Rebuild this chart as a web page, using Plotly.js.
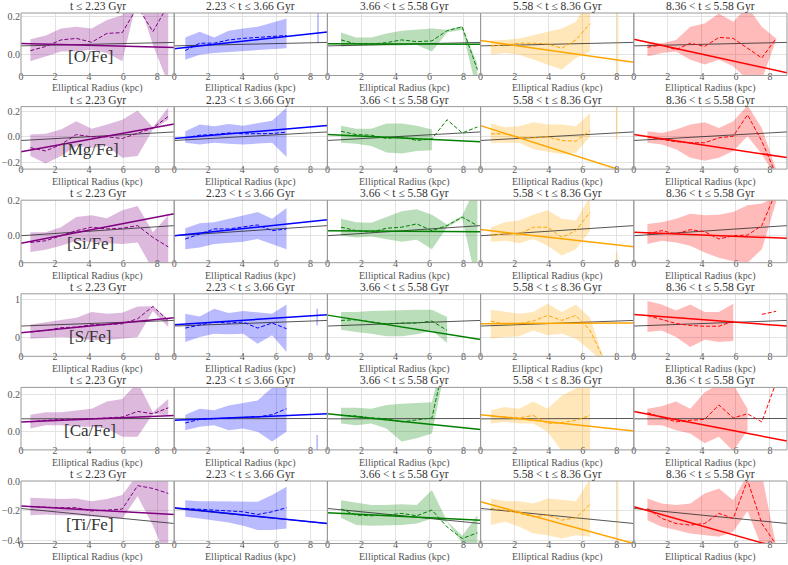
<!DOCTYPE html>
<html>
<head>
<meta charset="utf-8">
<script src="https://cdn.plot.ly/plotly-3.0.1.min.js"></script>
<style>
  body { margin: 0; background: #fff; }
  #graph { width: 788px; height: 565px; }
</style>
</head>
<body>
<div id="graph"></div>
<script>
// Abundance gradients vs elliptical radius, split by stellar age bin

const ageBins = ['t ≤ 2.23 Gyr', '2.23 < t ≤ 3.66 Gyr', '3.66 < t ≤ 5.58 Gyr', '5.58 < t ≤ 8.36 Gyr', '8.36 < t ≤ 5.58 Gyr'];
const elements = ['[O/Fe]', '[Mg/Fe]', '[Si/Fe]', '[S/Fe]', '[Ca/Fe]', '[Ti/Fe]'];
const binColors = ['purple', 'blue', 'green', 'orange', 'red'];
const fillColors = ['rgba(128,0,128,0.27)', 'rgba(0,0,255,0.27)', 'rgba(0,128,0,0.27)', 'rgba(255,165,0,0.27)', 'rgba(255,0,0,0.27)'];

// radial bin centres (kpc) for each age bin
const radiusBins = [
    [0.55, 1.45, 2.35, 3.25, 4.15, 5.05, 5.95, 6.85, 7.75, 8.65],
    [0.65, 1.5, 2.35, 3.2, 4.05, 4.9, 5.75, 6.6],
    [0.8, 1.69, 2.58, 3.47, 4.36, 5.25, 6.14, 7.03, 7.92, 8.81],
    [0.6, 1.43, 2.27, 3.1, 3.93, 4.77, 5.6, 6.43, 7.27],
    [0.8, 1.64, 2.48, 3.32, 4.16, 5.0, 5.84, 6.68, 7.52, 8.36]
];
// linear fits are drawn between these radii
const fitRadii = [0, 9];

// [O/Fe]
const O_med = [
    [0.021, 0.043, 0.077, 0.085, 0.065, 0.111, 0.115, 0.25, 0.12, 0.26],
    [0.022, 0.06, 0.06, 0.077, 0.085, 0.09, 0.097, 0.10],
    [0.077, 0.056, 0.055, 0.063, 0.077, 0.068, 0.072, 0.125, 0.145, -0.077],
    [0.046, 0.051, 0.06, 0.06, 0.056, 0.034, 0.077, 0.162, null],
    [0.039, 0.051, 0.026, 0.06, 0.043, 0.09, 0.085, 0.034, -0.017, 0.085]
];
const O_hi = [
    [0.08, 0.10, 0.137, 0.145, 0.137, 0.18, 0.205, 0.5, 0.4, 0.5],
    [0.09, 0.12, 0.09, 0.125, 0.137, 0.145, 0.166, 0.188],
    [0.115, 0.09, 0.09, 0.111, 0.125, 0.132, 0.137, 0.13, 0.15, -0.05],
    [0.074, 0.077, 0.085, 0.103, 0.12, 0.137, 0.171, 0.3, null],
    [0.068, 0.06, 0.077, 0.145, 0.162, 0.214, 0.171, 0.25, 0.145, 0.085]
];
const O_lo = [
    [-0.034, -0.009, 0.017, 0.017, 0.026, 0.009, -0.034, 0.3, 0.05, -0.15],
    [-0.026, 0.0, 0.009, 0.017, 0.022, 0.026, 0.029, 0.034],
    [0.043, 0.046, 0.046, 0.048, 0.048, 0.051, 0.017, 0.115, 0.13, -0.2],
    [0.0, 0.009, 0.0, -0.026, -0.051, -0.077, -0.017, 0.017, null],
    [-0.009, 0.009, 0.017, -0.026, -0.051, -0.026, -0.06, -0.13, -0.13, 0.077]
];
const O_fit = [[0.058, 0.038], [0.031, 0.118], [0.057, 0.055], [0.074, -0.039], [0.080, -0.094]];
const O_all = [0.046, 0.064];

// [Mg/Fe]
const Mg_med = [
    [-0.086, -0.112, -0.06, 0.018, 0.0, 0.0, -0.013, 0.031, 0.07, 0.162],
    [-0.008, 0.013, 0.018, 0.031, 0.024, 0.024, 0.026, 0.037],
    [0.044, 0.018, 0.013, -0.013, 0.0, -0.029, -0.016, 0.136, 0.031, 0.078],
    [0.024, 0.024, -0.003, -0.008, 0.0, -0.029, -0.034, 0.05, null],
    [0.0, -0.021, -0.039, -0.047, -0.047, -0.008, 0.005, 0.175, -0.034, -0.3]
];
const Mg_hi = [
    [0.018, 0.024, 0.058, 0.123, 0.065, 0.097, 0.136, 0.209, 0.076, 0.233],
    [0.044, 0.097, 0.084, 0.102, 0.089, 0.11, 0.128, 0.233],
    [0.089, 0.065, 0.065, 0.105, 0.105, 0.089, 0.058, null, null, null],
    [0.105, 0.076, 0.084, 0.115, 0.097, 0.097, 0.084, 0.188, null],
    [0.044, 0.031, 0.058, 0.097, 0.115, 0.07, 0.123, 0.25, 0.07, -0.26]
];
const Mg_lo = [
    [-0.152, -0.212, -0.152, -0.073, -0.086, -0.073, -0.165, -0.152, 0.058, 0.136],
    [-0.047, -0.06, -0.047, -0.055, -0.06, -0.055, -0.047, -0.159],
    [-0.047, -0.055, -0.073, -0.125, -0.133, -0.112, -0.107, null, null, null],
    [-0.047, -0.047, -0.047, -0.099, -0.12, -0.139, -0.125, 0.0, null],
    [-0.047, -0.06, -0.099, -0.165, -0.19, -0.165, -0.112, 0.005, -0.139, -0.32]
];
const Mg_fit = [[-0.118, 0.102], [-0.013, 0.09], [0.018, -0.039], [0.089, -0.297], [0.018, -0.165]];
const Mg_all = [-0.029, 0.039];

// [Si/Fe]
const Si_med = [
    [-0.043, -0.033, -0.004, 0.025, 0.045, 0.035, 0.039, 0.054, -0.014, -0.068],
    [-0.023, 0.006, 0.035, 0.035, 0.045, 0.058, 0.025, 0.035],
    [0.045, 0.025, 0.016, 0.039, 0.045, 0.064, 0.025, 0.054, 0.103, 0.054],
    [0.0, 0.006, 0.006, 0.045, 0.045, -0.014, 0.025, 0.132, null],
    [0.006, 0.025, 0.006, 0.031, 0.019, -0.023, -0.004, 0.0, 0.054, 0.25]
];
const Si_hi = [
    [0.016, 0.016, 0.045, 0.103, 0.113, 0.097, 0.142, 0.167, 0.016, 0.113],
    [0.039, 0.068, 0.074, 0.093, 0.113, 0.132, 0.093, 0.155],
    [0.093, 0.074, 0.07, 0.103, 0.136, 0.148, 0.117, 0.06, 0.11, 0.3],
    [0.045, 0.074, 0.084, 0.117, 0.142, 0.093, 0.084, 0.22, null],
    [0.064, 0.074, 0.093, 0.122, 0.113, 0.117, 0.132, 0.171, 0.181, 0.22]
];
const Si_lo = [
    [-0.097, -0.085, -0.062, -0.033, -0.039, -0.047, -0.052, -0.043, -0.2, -0.25],
    [-0.082, -0.072, -0.052, -0.047, -0.039, -0.023, -0.052, -0.082],
    [-0.004, -0.014, -0.008, -0.023, -0.039, -0.027, -0.082, 0.045, 0.095, -0.3],
    [-0.039, -0.033, -0.047, -0.023, -0.062, -0.117, -0.082, 0.025, null],
    [-0.052, -0.033, -0.043, -0.062, -0.101, -0.13, -0.15, -0.16, -0.082, 0.19]
];
const Si_fit = [[-0.047, 0.122], [-0.004, 0.087], [0.025, 0.019], [0.031, -0.068], [0.016, -0.019]];
const Si_all = [-0.004, 0.054];

// [S/Fe]
const S_med = [
    [0.148, 0.191, 0.261, 0.278, 0.339, 0.339, 0.365, 0.496, 0.817, 0.452],
    [0.252, 0.322, 0.409, 0.383, 0.409, 0.252, 0.383, 0.235],
    [0.452, 0.47, 0.409, 0.365, 0.383, 0.383, 0.435, 0.191, null, null],
    [0.435, 0.348, 0.365, 0.435, 0.583, 0.452, 0.583, 0.191, -0.6],
    [0.583, 0.47, 0.37, 0.32, 0.30, 0.30, 0.43, null, 0.61, 0.69]
];
const S_hi = [
    [0.348, 0.409, 0.47, 0.522, 0.67, 0.626, 0.652, 0.817, 0.82, 0.47],
    [0.626, 0.557, 0.757, 0.643, 0.696, 0.67, 0.626, 0.87],
    [0.67, 0.67, 0.696, 0.713, 0.713, 0.73, 0.73, 0.539, null, null],
    [0.73, 0.67, 0.626, 0.67, 0.887, 0.67, 0.87, 0.52, -0.6],
    [0.957, 0.87, 0.713, 0.87, 0.67, 0.67, 0.887, null, null, null]
];
const S_lo = [
    [-0.026, 0.0, 0.017, 0.0, -0.07, -0.07, -0.026, 0.017, 0.7, 0.278],
    [-0.113, 0.017, 0.104, 0.087, 0.104, -0.157, 0.061, -0.374],
    [0.209, 0.148, 0.104, 0.035, 0.035, 0.087, 0.191, -0.139, null, null],
    [-0.026, 0.017, 0.035, 0.191, 0.061, 0.104, -0.026, -0.33, -0.7],
    [0.148, 0.191, 0.017, -0.243, -0.052, -0.113, -0.087, null, null, null]
];
const S_fit = [[0.13, 0.522], [0.339, 0.60], [0.59, -0.05], [0.365, 0.383], [0.609, 0.304]];
const S_all = [0.304, 0.452];

// [Ca/Fe]
const Ca_med = [
    [0.051, 0.06, 0.064, 0.065, 0.069, 0.073, 0.078, 0.109, 0.096, 0.129],
    [0.045, 0.065, 0.069, 0.073, 0.078, 0.078, 0.091, 0.124],
    [0.087, 0.084, 0.073, 0.069, 0.051, 0.06, 0.073, 0.45, null, null],
    [0.084, 0.078, 0.073, 0.087, 0.042, 0.047, 0.06, 0.087, null],
    [0.102, 0.078, 0.051, 0.06, 0.065, 0.145, 0.073, 0.096, 0.051, 0.27]
];
const Ca_hi = [
    [0.091, 0.105, 0.105, 0.115, 0.124, 0.164, 0.178, 0.27, 0.105, 0.178],
    [0.091, 0.124, 0.115, 0.142, 0.156, 0.169, 0.242, 0.26],
    [0.129, 0.129, 0.124, 0.145, 0.151, 0.156, 0.16, 0.5, null, null],
    [0.115, 0.133, 0.124, 0.164, 0.124, 0.196, 0.236, 0.26, null],
    [0.124, 0.138, 0.164, 0.124, 0.215, 0.26, 0.26, 0.124, null, null]
];
const Ca_lo = [
    [0.015, 0.033, 0.033, 0.024, 0.024, 0.015, -0.031, -0.031, 0.096, 0.087],
    [0.005, 0.024, 0.033, 0.005, 0.015, -0.004, -0.058, -0.004],
    [0.042, 0.033, 0.042, 0.015, -0.058, -0.04, -0.013, 0.4, null, null],
    [0.042, 0.051, 0.042, 0.042, -0.004, -0.11, -0.11, -0.12, null],
    [0.033, 0.033, 0.005, -0.013, -0.067, -0.031, -0.11, 0.005, null, null]
];
const Ca_fit = [[0.051, 0.087], [0.06, 0.096], [0.096, 0.009], [0.091, 0.0], [0.109, -0.055]];
const Ca_all = [0.068, 0.070];

// [Ti/Fe]
const Ti_med = [
    [-0.171, -0.176, -0.178, -0.178, -0.2, -0.194, -0.187, -0.027, -0.046, -0.08],
    [-0.183, -0.187, -0.194, -0.2, -0.206, -0.224, -0.206, -0.178],
    [-0.187, -0.229, -0.233, -0.229, -0.217, -0.233, -0.194, -0.309, -0.389, -0.35],
    [-0.183, -0.194, -0.217, -0.24, -0.229, -0.263, -0.247, -0.155, null],
    [-0.183, -0.251, -0.286, -0.297, -0.286, -0.217, -0.251, 0.01, -0.286, -0.43]
];
const Ti_hi = [
    [-0.11, -0.114, -0.119, -0.114, -0.133, -0.119, -0.091, 0.05, 0.05, 0.05],
    [-0.126, -0.133, -0.133, -0.133, -0.133, -0.137, -0.091, -0.034],
    [-0.126, -0.142, -0.16, -0.16, -0.155, -0.16, -0.057, -0.27, -0.37, -0.23],
    [-0.114, -0.133, -0.133, -0.149, -0.114, -0.126, -0.133, 0.02, null],
    [-0.114, -0.149, -0.16, -0.149, -0.08, -0.046, -0.126, 0.05, 0.05, -0.44]
];
const Ti_lo = [
    [-0.229, -0.224, -0.229, -0.229, -0.24, -0.247, -0.251, -0.1, -0.3, -0.55],
    [-0.24, -0.251, -0.263, -0.279, -0.302, -0.331, -0.331, -0.32],
    [-0.247, -0.297, -0.302, -0.302, -0.297, -0.286, -0.251, -0.275, -0.42, -0.45],
    [-0.297, -0.274, -0.309, -0.354, -0.366, -0.389, -0.366, -0.377, null],
    [-0.263, -0.309, -0.331, -0.354, -0.366, -0.377, -0.343, -0.2, -0.45, -0.5]
];
const Ti_fit = [[-0.167, -0.224], [-0.178, -0.286], [-0.213, -0.263], [-0.137, -0.423], [-0.171, -0.467]];
const Ti_all = [-0.183, -0.286];

// isolated outer bins that show up as thin vertical slivers
const loneRow = [0, 0, 1, 2, 3, 4, 5];
const loneCol = [1, 3, 3, 3, 1, 1, 3];
const loneX = [8.45, 8.05, 8.0, 8.0, 8.4, 8.4, 8.05];
const loneLo = [0.063, -0.2, -0.02, -0.2, 0.32, -0.15, -0.5];
const loneHi = [0.25, 0.3, 0.3, -0.1, 0.76, -0.022, 0.1];
const loneHalfWidth = 0.05;

const yRanges = [[-0.108, 0.217], [-0.256, 0.24], [-0.159, 0.2], [-0.487, 1.148], [-0.104, 0.242], [-0.423, 0.005]];
const yTicks = [[0, 0.2], [-0.2, 0, 0.2], [0, 0.2], [0, 1], [0, 0.2], [-0.4, -0.2, 0]];
const yTickText = [['0.0', '0.2'], ['−0.2', '0.0', '0.2'], ['0.0', '0.2'], ['0', '1'], ['0.0', '0.2'], ['−0.4', '−0.2', '0.0']];

const rows = [
    [O_med, O_lo, O_hi, O_fit, O_all],
    [Mg_med, Mg_lo, Mg_hi, Mg_fit, Mg_all],
    [Si_med, Si_lo, Si_hi, Si_fit, Si_all],
    [S_med, S_lo, S_hi, S_fit, S_all],
    [Ca_med, Ca_lo, Ca_hi, Ca_fit, Ca_all],
    [Ti_med, Ti_lo, Ti_hi, Ti_fit, Ti_all]
];

// page geometry in pixels
const W = 788, H = 565;
const colLeft = 21, colW = 153.2;
const rowTop = 13, rowStep = 93.6, rowH = 62.5;

const serif = '"Liberation Serif", "DejaVu Serif", serif';

function band(xs, lo, hi) {
    // polygon through the upper edge and back along the lower edge
    const px = [], py = [];
    const idx = [];
    for (let i = 0; i < xs.length; i++) {
        if (lo[i] !== null && hi[i] !== null && lo[i] !== undefined && hi[i] !== undefined) idx.push(i);
    }
    idx.forEach(i => { px.push(xs[i]); py.push(hi[i]); });
    idx.slice().reverse().forEach(i => { px.push(xs[i]); py.push(lo[i]); });
    return [px, py];
}

var data = [];
var layout = {
    width: W,
    height: H,
    margin: {l: 0, r: 0, t: 0, b: 0},
    paper_bgcolor: '#fff',
    plot_bgcolor: '#fff',
    showlegend: false,
    font: {family: serif, color: '#444'},
    annotations: [],
    shapes: []
};

for (let r = 0; r < rows.length; r++) {
    const [med, lo, hi, fit, all] = rows[r];
    const yTop = 1 - (rowTop + rowStep * r) / H;
    const yBot = 1 - (rowTop + rowStep * r + rowH) / H;

    for (let c = 0; c < 5; c++) {
        const k = r * 5 + c + 1;
        const xa = 'x' + k, ya = 'y' + k;
        const xs = radiusBins[c].slice(0, med[c].length);
        const x0 = (colLeft + colW * c) / W;
        const x1 = (colLeft + colW * (c + 1)) / W;

        const b = band(xs, lo[c], hi[c]);
        data.push({
            x: b[0], y: b[1], xaxis: xa, yaxis: ya,
            type: 'scatter', mode: 'lines', fill: 'toself',
            fillcolor: fillColors[c], line: {width: 0}, hoverinfo: 'skip'
        });
        data.push({
            x: fitRadii, y: all, xaxis: xa, yaxis: ya,
            type: 'scatter', mode: 'lines',
            line: {color: 'rgba(30,30,30,0.75)', width: 1}
        });
        data.push({
            x: xs, y: med[c], xaxis: xa, yaxis: ya,
            type: 'scatter', mode: 'lines',
            line: {color: binColors[c], width: 1, dash: '4px,2px'}
        });
        data.push({
            x: fitRadii, y: fit[c], xaxis: xa, yaxis: ya,
            type: 'scatter', mode: 'lines',
            line: {color: binColors[c], width: 1.5}
        });

        // x axis sits a few px above the frame so its labels hug the panel
        layout['xaxis' + k] = {
            domain: [x0, x1], anchor: 'free', position: yBot + 7 / H, range: [0, 9],
            tickvals: [0, 2, 4, 6, 8], ticks: '',
            tickfont: {family: serif, size: 10, color: '#555'},
            showline: false,
            showgrid: true, gridcolor: '#e3e3e3', zeroline: false
        };
        layout['yaxis' + k] = {
            domain: [yBot, yTop], anchor: xa, range: yRanges[r],
            tickvals: yTicks[r], ticktext: yTickText[r], ticks: '',
            showticklabels: c === 0,
            tickfont: {family: serif, size: 10, color: '#555'},
            showline: false,
            showgrid: true, gridcolor: '#e3e3e3', zeroline: false
        };

        // panel frame
        layout.shapes.push({
            type: 'rect', xref: xa + ' domain', yref: ya + ' domain',
            x0: 0, x1: 1, y0: 0, y1: 1,
            line: {color: '#999', width: 1}, layer: 'above'
        });

        // panel title and x-axis label
        layout.annotations.push({
            text: ageBins[c], xref: 'paper', yref: 'paper',
            x: (x0 + x1) / 2, y: yTop + 6.5 / H, yanchor: 'middle', xanchor: 'center',
            showarrow: false,
            font: {family: serif, size: 11.5, color: '#333'}
        });
        layout.annotations.push({
            text: 'Elliptical Radius (kpc)', xref: 'paper', yref: 'paper',
            x: (x0 + x1) / 2, y: yBot - 13 / H, yanchor: 'middle', xanchor: 'center',
            showarrow: false,
            font: {family: serif, size: 10, color: '#555'}
        });
    }

    // element label inside the first panel
    layout.annotations.push({
        text: elements[r], xref: 'paper', yref: 'paper',
        x: 90 / W, y: yTop - (0.69 * rowH) / H, xanchor: 'center', yanchor: 'middle',
        showarrow: false,
        font: {family: serif, size: 17, color: '#333'}
    });
}

// thin slivers for isolated bins
for (let i = 0; i < loneX.length; i++) {
    const k = loneRow[i] * 5 + loneCol[i] + 1;
    const xl = loneX[i] - loneHalfWidth, xr = loneX[i] + loneHalfWidth;
    data.push({
        x: [xl, xr, xr, xl], y: [loneHi[i], loneHi[i], loneLo[i], loneLo[i]],
        xaxis: 'x' + k, yaxis: 'y' + k,
        type: 'scatter', mode: 'lines', fill: 'toself',
        fillcolor: fillColors[loneCol[i]], line: {width: 0}, hoverinfo: 'skip'
    });
}

Plotly.newPlot('graph', data, layout, {displayModeBar: false, staticPlot: true});
</script>
</body>
</html>
